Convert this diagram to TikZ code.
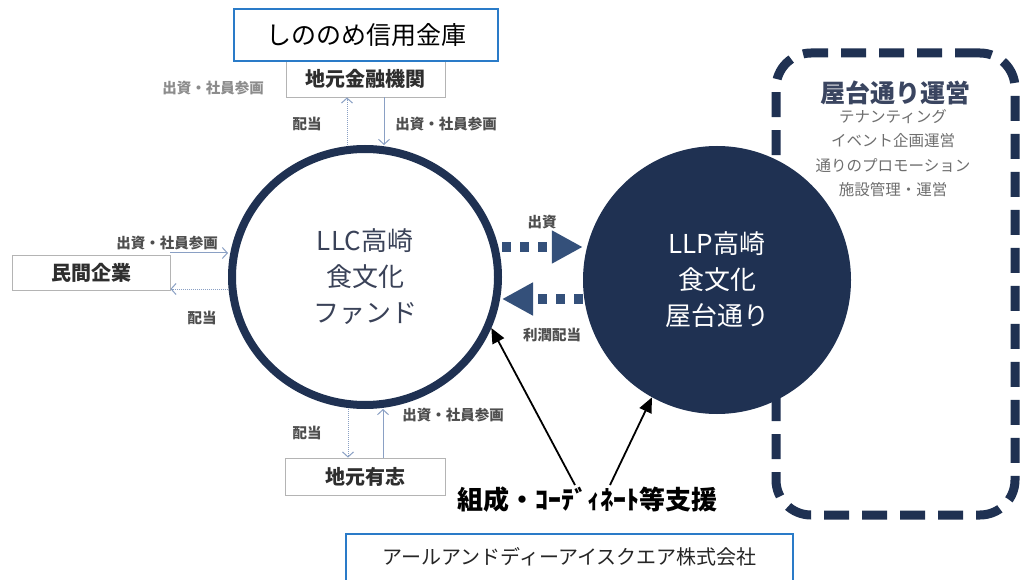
\documentclass[tikz,border=0pt]{standalone}
\usepackage{fontspec}
\setmainfont{Noto Sans CJK JP}
\usetikzlibrary{arrows.meta,shapes.geometric,calc}
\definecolor{navy}{HTML}{1F3152}
\definecolor{dotblue}{HTML}{34507A}
\definecolor{thinblue}{HTML}{8AA0C4}
\definecolor{boxgray}{HTML}{B4B4B4}
\definecolor{boxtext}{HTML}{2E2E2E}
\definecolor{lblgray}{HTML}{4E4E4E}
\definecolor{lbllight}{HTML}{8C8C8C}
\definecolor{llctext}{HTML}{3A4258}
\definecolor{titlenavy}{HTML}{3A4560}
\definecolor{listgray}{HTML}{6E6E6E}
\definecolor{boxblue}{HTML}{2A7BC8}
\tikzset{
  thinarrow/.style={draw=thinblue, line width=1pt, -{Straight Barb[length=5pt,width=11pt]}},
  thindot/.style={thinarrow, densely dotted},
  graybox/.style={draw=boxgray, line width=0.8pt, fill=white, inner sep=0pt, text=boxtext,
    font=\bfseries\fontsize{20}{24}\selectfont},
  lbl/.style={text=lblgray, inner sep=1pt, font=\bfseries\fontsize{14.5}{17}\selectfont},
  bluebox/.style={draw=boxblue, line width=1.6pt},
  fatdot/.style={draw=dotblue, line width=10pt, dash pattern=on 9pt off 9pt,
    -{Triangle[length=31pt,width=31pt]}},
  supparrow/.style={draw=black, line width=1.8pt, -{Triangle[length=15pt,width=13pt]}}
}
\begin{document}
\begin{tikzpicture}[x=1pt,y=-1pt]
\useasboundingbox (0,0) rectangle (1023,580);
\fill[white] (0,0) rectangle (1023,580);

% right dashed operations box
\node[draw=navy, line width=9pt, dash pattern=on 25pt off 13pt, rounded corners=35pt,
  minimum width=239pt, minimum height=462pt, inner sep=0pt] (opsbox) at (895.5,284) {};
\node[text=titlenavy, font=\bfseries\fontsize{25}{30}\selectfont] (opstitle) at (895,93) {屋台通り運営};
\node[text=listgray, align=center, font=\fontsize{15.5}{24.3}\selectfont] (opslist) at (893,153)
  {テナンティング\\イベント企画運営\\通りのプロモーション\\施設管理・運営};

% boxes
\node[graybox, minimum width=159pt, minimum height=36pt] (bank) at (365.5,79) {地元金融機関};
\node[bluebox, fill=white, minimum width=264pt, minimum height=52pt, inner sep=0pt,
  font=\fontsize{25}{30}\selectfont] (shinonome) at (366,35) {しののめ信用金庫};
\node[graybox, minimum width=158pt, minimum height=35pt] (corp) at (91,272.5) {民間企業};
\node[graybox, minimum width=160pt, minimum height=37pt] (local) at (365,476.5) {地元有志};

% LLC circle
\node[ellipse, draw=navy, line width=8pt, minimum width=266pt, minimum height=256pt,
  inner sep=0pt, align=center, text=llctext, font=\fontsize{26}{36}\selectfont]
  (llc) at (365,277) {LLC高崎\\食文化\\ファンド};

% LLP circle
\node[circle, fill=navy, minimum size=268pt, inner sep=0pt, align=center, text=white,
  font=\fontsize{26}{36}\selectfont] (llp) at (717,280) {LLP高崎\\食文化\\屋台通り};

% thin arrows
\draw[thindot] (llc.north -| 347,0) -- (bank.south -| 347,0);
\draw[thinarrow] (bank.south -| 384,0) -- (llc.north -| 384,0);
\draw[thinarrow] (corp.east |- 0,253) -- (llc.west |- 0,253);
\draw[thindot] (llc.west |- 0,289) -- (corp.east |- 0,289);
\draw[thindot] (llc.south -| 348,0) -- (local.north -| 348,0);
\draw[thinarrow] (local.north -| 383,0) -- (llc.south -| 383,0);

% labels
\node[lbl, text=lbllight] (l0) at (213,88) {出資・社員参画};
\node[lbl] (l1) at (307,124) {配当};
\node[lbl] (l2) at (446,124) {出資・社員参画};
\node[lbl] (l3) at (167,243) {出資・社員参画};
\node[lbl] (l4) at (202,318) {配当};
\node[lbl] (l5) at (307,433) {配当};
\node[lbl] (l6) at (453,415) {出資・社員参画};
\node[lbl] (l7) at (542,222) {出資};
\node[lbl] (l8) at (552,335) {利潤配当};

% fat dotted arrows
\draw[fatdot] (llc.east |- 0,247) -- (llp.west |- 0,247);
\draw[fatdot] (llp.west |- 0,299) -- (llc.east |- 0,299);

% support text and arrows
\node[inner sep=2pt, font=\bfseries\fontsize{26}{30}\selectfont] (supp) at (587.5,500) {組成・ｺｰﾃﾞｨﾈｰﾄ等支援};
\draw[supparrow] (supp.north -| 575,0) -- (llc.-22);
\draw[supparrow] (supp.north -| 610,0) -- (llp.-119);

% bottom blue box
\node[minimum width=447pt, minimum height=46pt, inner sep=0pt, text=black!85,
  font=\fontsize{20}{24}\selectfont] (rdi) at (569.5,557) {アールアンドディーアイスクエア株式会社};
\draw[bluebox] (rdi.south west) -- (rdi.north west) -- (rdi.north east) -- (rdi.south east);
\end{tikzpicture}
\end{document}
